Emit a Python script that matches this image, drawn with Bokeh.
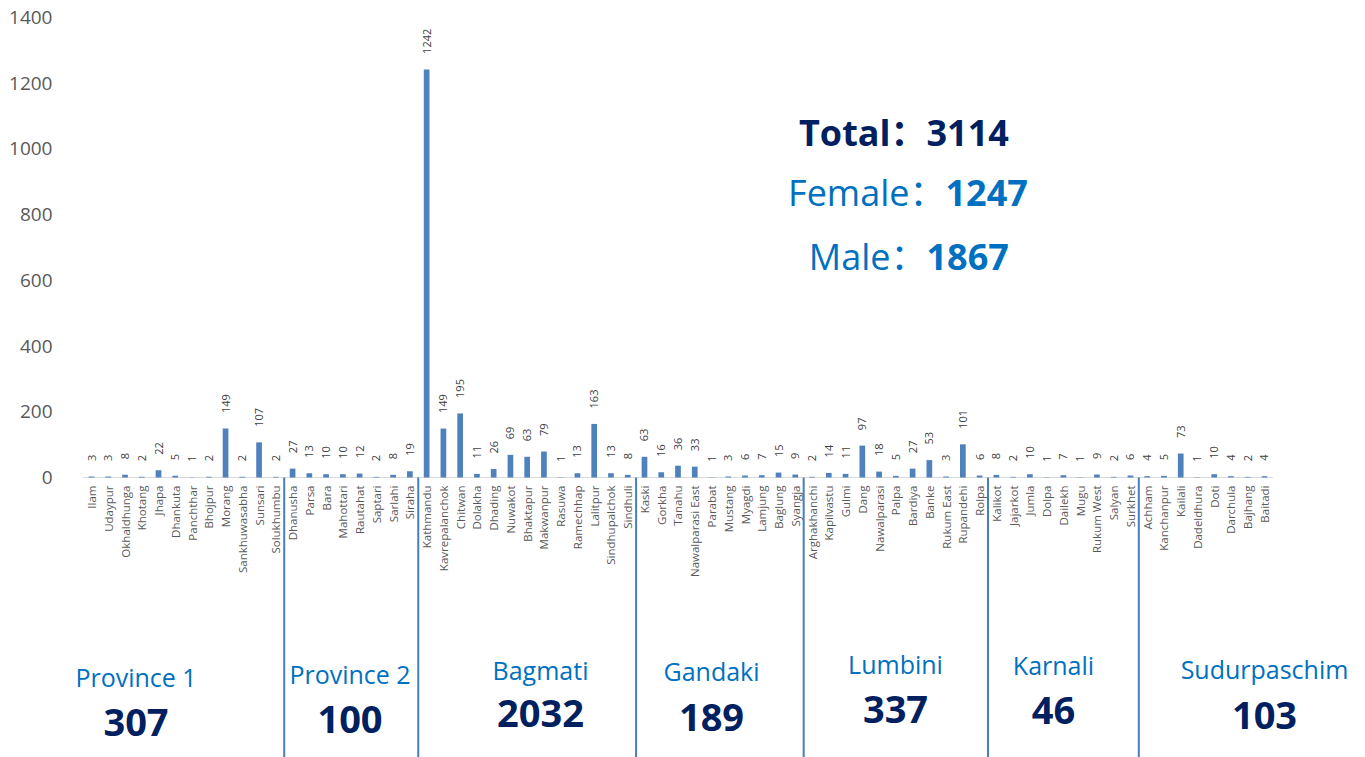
import numpy as np
from bokeh.plotting import figure
from bokeh.models import Range1d, FixedTicker
from bokeh.core.properties import value
from bokeh.embed import file_html
from bokeh.resources import INLINE

# ---------------- data ----------------
districts = [
    # Province 1
    "Ilam", "Udaypur", "Okhaldhunga", "Khotang", "Jhapa", "Dhankuta", "Panchthar",
    "Bhojpur", "Morang", "Sankhuwasabha", "Sunsari", "Solukhumbu",
    # Province 2
    "Dhanusha", "Parsa", "Bara", "Mahottari", "Rautahat", "Saptari", "Sarlahi", "Siraha",
    # Bagmati
    "Kathmandu", "Kavrepalanchok", "Chitwan", "Dolakha", "Dhading", "Nuwakot", "Bhaktapur",
    "Makwanpur", "Rasuwa", "Ramechhap", "Lalitpur", "Sindhupalchok", "Sindhuli",
    # Gandaki
    "Kaski", "Gorkha", "Tanahu", "Nawalparasi East", "Parabat", "Mustang", "Myagdi",
    "Lamjung", "Baglung", "Syangja",
    # Lumbini
    "Arghakhanchi", "Kapilvastu", "Gulmi", "Dang", "Nawalparasi", "Palpa", "Bardiya",
    "Banke", "Rukum East", "Rupandehi", "Rolpa",
    # Karnali
    "Kalikot", "Jajarkot", "Jumla", "Dolpa", "Dailekh", "Mugu", "Rukum West", "Salyan", "Surkhet",
    # Sudurpaschim
    "Achham", "Kanchanpur", "Kailali", "Dadeldhura", "Doti", "Darchula", "Bajhang", "Baitadi",
]
cases = [
    3, 3, 8, 2, 22, 5, 1, 2, 149, 2, 107, 2,
    27, 13, 10, 10, 12, 2, 8, 19,
    1242, 149, 195, 11, 26, 69, 63, 79, 1, 13, 163, 13, 8,
    63, 16, 36, 33, 1, 3, 6, 7, 15, 9,
    2, 14, 11, 97, 18, 5, 27, 53, 3, 101, 6,
    8, 2, 10, 1, 7, 1, 9, 2, 6,
    4, 5, 73, 1, 10, 4, 2, 4,
]
province_names = ["Province 1", "Province 2", "Bagmati", "Gandaki", "Lumbini", "Karnali", "Sudurpaschim"]
province_totals = [307, 100, 2032, 189, 337, 46, 103]
province_sizes = [12, 8, 13, 10, 11, 9, 8]
y_ticks = [0, 200, 400, 600, 800, 1000, 1200, 1400]
total_cases, female_cases, male_cases = 3114, 1247, 1867

# ---------------- layout (page pixels) ----------------
W, H = 1365, 757
PAGE = 0
X0_PAGE = 91.0          # centre of first category
STEP = 16.757           # pixels per category
Y0_PAGE = 477.0         # y=0 line
PX_PER_UNIT = 460.0 / 1400.0
FRAME_LEFT_PAGE = 66


def dx(px):
    return (px - X0_PAGE) / STEP


def dy(py):
    return (Y0_PAGE - py) / PX_PER_UNIT


FONT = value("Open Sans")
CJK_FONT = value("'Open Sans', 'Noto Sans CJK SC'")
DARK = "#002060"
BLUE = "#0070C0"
BAR = "#4F81BD"
DIV = "#4A7EBB"

p = figure(
    width=W, height=H, output_backend="svg", toolbar_location=None,
    x_range=Range1d(dx(FRAME_LEFT_PAGE), dx(PAGE + W)),
    y_range=Range1d(dy(PAGE + H), dy(PAGE)),
    min_border_left=FRAME_LEFT_PAGE - PAGE, min_border_right=0,
    min_border_top=0, min_border_bottom=0,
    x_axis_location=None,
)
p.xgrid.visible = False
p.ygrid.visible = False
p.outline_line_color = None
p.background_fill_color = "white"
p.border_fill_color = "white"

ax = p.yaxis[0]
ax.ticker = FixedTicker(ticks=y_ticks)
ax.axis_line_color = None
ax.major_tick_line_color = None
ax.minor_tick_line_color = None
ax.major_label_text_font = "Open Sans"
ax.major_label_text_font_size = "19px"
ax.major_label_text_color = "#595959"
ax.major_label_standoff = 8

idx = list(range(len(districts)))
n = len(districts)

# baseline
p.segment(x0=[-0.5], y0=[0], x1=[n - 0.5], y1=[0], line_color="#D9D9D9", line_width=1)

# bars
p.vbar(x=idx, top=cases, bottom=0, width=0.34, fill_color=BAR, line_color=None)

# value labels
gap = 15.5 / PX_PER_UNIT
p.text(x=idx, y=[v + gap for v in cases], text=[str(v) for v in cases],
       angle=np.pi / 2, text_align="left", text_baseline="middle",
       text_font=FONT, text_font_size="11px", text_color="#404040")

# category labels
p.text(x=idx, y=[dy(485)] * n, text=districts,
       angle=np.pi / 2, text_align="right", text_baseline="middle",
       text_font=FONT, text_font_size="11.5px", text_color="#595959")

# province dividers
bounds = list(np.cumsum(province_sizes)[:-1] - 0.5)
p.segment(x0=bounds, y0=[0] * len(bounds), x1=bounds, y1=[dy(PAGE + H + 2)] * len(bounds),
          line_color=DIV, line_width=2)

# province labels
prov_x = [135.5, 349.5, 540, 711, 895, 1053, 1264]
prov_name_base = [676, 673, 669, 670, 663, 664, 668]
prov_num_base = [722, 719, 713, 717, 709, 710, 715]
p.text(x=[dx(v) for v in prov_x], y=[dy(v) for v in prov_name_base], text=province_names,
       text_align="center", text_baseline="alphabetic",
       text_font=FONT, text_font_size="25px", text_color=BLUE)
p.text(x=[dx(v) for v in prov_x], y=[dy(v) for v in prov_num_base], text=[str(v) for v in province_totals],
       text_align="center", text_baseline="alphabetic",
       text_font=FONT, text_font_size="38px", text_font_style="bold", text_color=DARK)

# summary box
p.text(x=[dx(926)], y=[dy(132)], text=["Total："], text_align="right", text_baseline="alphabetic",
       text_font=CJK_FONT, text_font_size="36px", text_font_style="bold", text_color=DARK)
p.text(x=[dx(926)], y=[dy(132)], text=[str(total_cases)], text_align="left", text_baseline="alphabetic",
       text_font=FONT, text_font_size="36px", text_font_style="bold", text_color=DARK)
p.text(x=[dx(945)], y=[dy(192)], text=["Female："], text_align="right", text_baseline="alphabetic",
       text_font=CJK_FONT, text_font_size="36px", text_color=BLUE)
p.text(x=[dx(945)], y=[dy(192)], text=[str(female_cases)], text_align="left", text_baseline="alphabetic",
       text_font=FONT, text_font_size="36px", text_font_style="bold", text_color=BLUE)
p.text(x=[dx(926)], y=[dy(256)], text=["Male："], text_align="right", text_baseline="alphabetic",
       text_font=CJK_FONT, text_font_size="36px", text_color=BLUE)
p.text(x=[dx(926)], y=[dy(256)], text=[str(male_cases)], text_align="left", text_baseline="alphabetic",
       text_font=FONT, text_font_size="36px", text_font_style="bold", text_color=BLUE)

open("out.html", "w").write(file_html(p, INLINE))
